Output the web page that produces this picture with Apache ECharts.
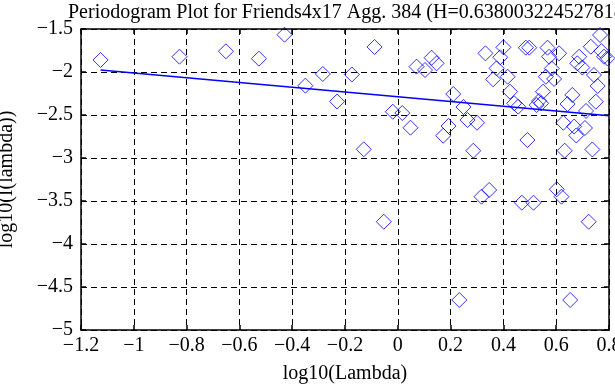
<!DOCTYPE html>
<html>
<head>
<meta charset="utf-8">
<script src="https://cdn.jsdelivr.net/npm/echarts@6/dist/echarts.min.js"></script>
<style>html,body{margin:0;padding:0;background:#fff}#c{width:615px;height:385px}</style>
</head>
<body>
<div id="c"></div>
<script>
const titleText = "Periodogram Plot for Friends4x17 Agg. 384 (H=0.638003224527818)";
const xAxisName = "log10(Lambda)";
const yAxisName = "log10(I(lambda))";
const xTicks = [-1.2, -1, -0.8, -0.6, -0.4, -0.2, 0, 0.2, 0.4, 0.6, 0.8];
const yTicks = [-5, -4.5, -4, -3.5, -3, -2.5, -2, -1.5];

const logLambda = [-1.126,-0.827,-0.651,-0.526,-0.429,-0.350,-0.284,-0.230,-0.174,-0.088,
  -0.129,-0.019,0.017,0.048,-0.053,0.071,0.103,0.128,0.147,0.210,
  0.249,0.192,0.172,0.264,0.300,0.286,0.233,0.332,0.388,0.400,
  0.374,0.361,0.416,0.425,0.441,0.456,0.346,0.317,0.485,0.498,
  0.567,0.611,0.573,0.583,0.561,0.592,0.550,0.535,0.526,0.543,
  0.491,0.470,0.514,0.653,0.661,0.643,0.750,0.713,0.627,0.668,
  0.709,0.676,0.632,0.737,0.602,0.620,0.723,0.687,0.680,0.699,
  0.731,0.766,0.771,0.781,0.794,0.743,0.757];
const logI = [-1.860,-1.822,-1.759,-1.845,-1.566,-2.159,-2.023,-2.343,-2.029,-1.709,
  -2.899,-2.462,-2.477,-2.648,-3.741,-1.938,-1.977,-1.834,-1.899,-2.256,
  -2.407,-2.628,-2.741,-2.558,-2.590,-2.915,-4.651,-1.783,-1.829,-1.713,
  -1.957,-2.085,-2.055,-2.229,-2.364,-2.403,-3.372,-3.450,-1.717,-1.717,
  -1.717,-1.783,-1.822,-1.959,-2.055,-2.081,-2.229,-2.337,-2.384,-2.364,
  -2.791,-3.520,-3.520,-4.651,-2.267,-2.372,-2.345,-2.453,-2.590,-2.634,
  -2.651,-2.738,-2.915,-2.901,-3.364,-3.450,-3.741,-1.822,-1.899,-1.948,
  -1.706,-1.570,-1.756,-1.822,-1.841,-2.035,-2.163];
const fitX = [-1.126, 0.8];
const fitY = [-1.978, -2.510];

const pts = logLambda.map((x, i) => [x, logI[i]]);
const fit = fitX.map((x, i) => [x, fitY[i]]);
const fmt = v => String(Math.round(v * 10) / 10).replace('-', '\u2212');
const font = '"Liberation Serif","DejaVu Serif",serif';

const chart = echarts.init(document.getElementById('c'));
const baseX = {
  type: 'value', min: xTicks[0], max: xTicks[xTicks.length - 1], interval: 0.2,
  axisLine: {show: true, onZero: false, lineStyle: {color: '#000', width: 1.5}},
  axisTick: {show: true, inside: true, length: 5, lineStyle: {color: '#000', width: 1.5}},
  splitLine: {show: false}
};
const baseY = {
  type: 'value', min: yTicks[0], max: yTicks[yTicks.length - 1], interval: 0.5,
  axisLine: {show: true, onZero: false, lineStyle: {color: '#000', width: 1.5}},
  axisTick: {show: true, inside: true, length: 5, lineStyle: {color: '#000', width: 1.5}},
  splitLine: {show: false}
};
chart.setOption({
  animation: false,
  backgroundColor: '#fff',
  title: {
    text: titleText, left: 63, top: -2,
    textStyle: {fontFamily: font, fontSize: 20, fontWeight: 'normal', color: '#000'}
  },
  grid: {left: 81, right: 6, top: 29, bottom: 55, containLabel: false, outerBoundsMode: 'none'},
  xAxis: [
    Object.assign({}, baseX, {
      position: 'bottom',
      name: xAxisName, nameLocation: 'middle', nameGap: 34,
      nameTextStyle: {fontFamily: font, fontSize: 20, color: '#000'},
      axisLabel: {formatter: fmt, fontFamily: font, fontSize: 20, color: '#000', margin: 6},
      splitLine: {show: true, lineStyle: {color: '#000', type: [6, 4], width: 1}}
    }),
    Object.assign({}, baseX, {position: 'top', axisLabel: {show: false}})
  ],
  yAxis: [
    Object.assign({}, baseY, {
      position: 'left',
      name: yAxisName, nameLocation: 'middle', nameGap: 64, nameRotate: 90,
      nameTextStyle: {fontFamily: font, fontSize: 20, color: '#000'},
      axisLabel: {formatter: fmt, fontFamily: font, fontSize: 20, color: '#000', margin: 8},
      splitLine: {show: true, lineStyle: {color: '#000', type: [6, 4], width: 1}}
    }),
    Object.assign({}, baseY, {position: 'right', axisLabel: {show: false}})
  ],
  series: [
    {
      type: 'scatter', data: pts, symbol: 'diamond', symbolSize: 15,
      itemStyle: {color: 'rgba(0,0,0,0)', borderColor: '#0000ff', borderWidth: 1}
    },
    {
      type: 'line', data: fit, symbol: 'none',
      lineStyle: {color: '#0000ff', width: 1.5}
    }
  ]
});
</script>
</body>
</html>
